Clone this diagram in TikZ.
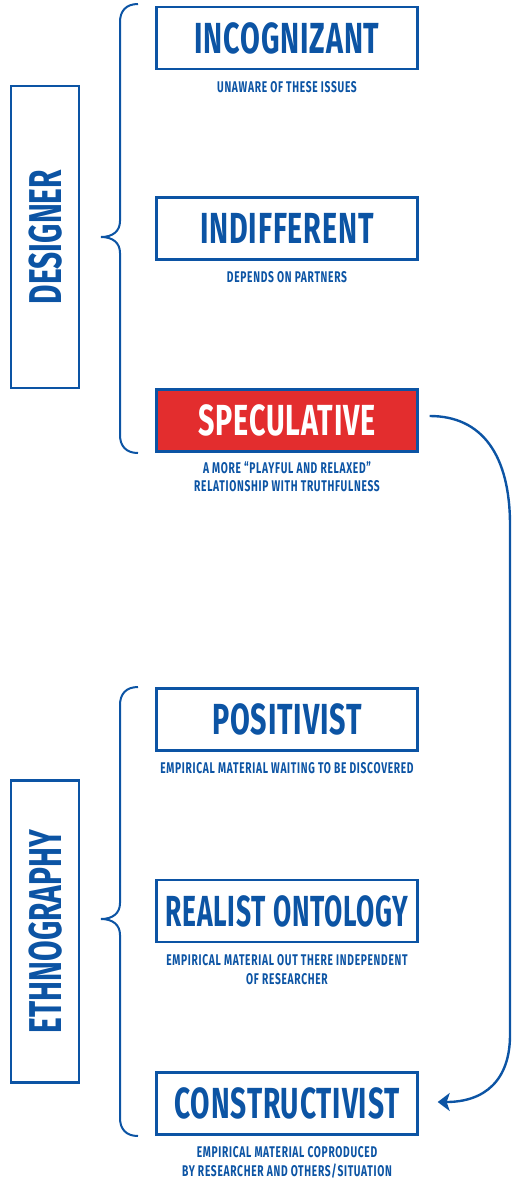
\documentclass[tikz,border=0pt]{standalone}
\usepackage{fontspec}
\newfontfamily\cf{Fira Sans}[FakeStretch=0.66,LetterSpace=2]
\newfontfamily\sidefont{Fira Sans}[FakeStretch=0.65]
\newfontfamily\capf{Fira Sans}[FakeStretch=0.66,LetterSpace=4.5]
\usetikzlibrary{arrows.meta}
\definecolor{bl}{RGB}{12,84,164}
\definecolor{rd}{RGB}{227,45,46}
\begin{document}
\begin{tikzpicture}[x=1pt,y=-1pt,
 box/.style={draw=bl,line width=2.4pt,minimum width=261pt,minimum height=62pt,inner sep=0pt,text=bl,font=\cf\bfseries\fontsize{43.5}{43.5}\selectfont,text height=30pt,text depth=0pt},
 capt/.style={text=bl,font=\capf\bfseries\fontsize{15.5}{18.5}\selectfont,align=center,anchor=base,inner sep=0pt},
 side/.style={draw=bl,line width=2.4pt,minimum width=302pt,minimum height=68pt,rotate=90,inner sep=0pt,text=bl,font=\sidefont\bfseries\fontsize{46}{46}\selectfont,text height=32pt,text depth=0pt},
 brace/.style={draw=bl,line width=2pt},
 conn/.style={draw=bl,line width=2.4pt,-{Stealth[length=12pt,width=18pt,inset=3pt]}}]
\useasboundingbox (0,0) rectangle (513,1181);

\node[side] (des) at (45,237) {DESIGNER};
\node[side] (eth) at (45,931.5) {ETHNOGRAPHY};

\node[box] (inc) at (287,38) {INCOGNIZANT};
\node[box] (ind) at (287,228.5) {INDIFFERENT};
\node[box,fill=rd,text=white] (spec) at (287,420.5) {SPECULATIVE};
\node[box] (pos) at (287,719.5) {POSITIVIST};
\node[box] (real) at (287,911) {\scalebox{0.92}[1]{REALIST ONTOLOGY}};
\node[box] (cons) at (287,1103.5) {\scalebox{0.98}[1]{CONSTRUCTIVIST}};

\node[capt] (c1) at (287,92.7) {UNAWARE OF THESE ISSUES};
\node[capt] (c2) at (287,282.7) {DEPENDS ON PARTNERS};
\node[capt] (c3) at (287,491.7) {A MORE “PLAYFUL AND RELAXED”\\RELATIONSHIP WITH TRUTHFULNESS};
\node[capt] (c4) at (287,773.3) {EMPIRICAL MATERIAL WAITING TO BE DISCOVERED};
\node[capt] (c5) at (287,984.3) {EMPIRICAL MATERIAL OUT THERE INDEPENDENT\\OF RESEARCHER};
\node[capt] (c6) at (287,1176) {EMPIRICAL MATERIAL COPRODUCED\\BY RESEARCHER AND OTHERS/SITUATION};

\draw[brace] (138,4) .. controls (126,4) and (120,11) .. (120,22) -- (120,221)
  .. controls (120,231) and (113,237) .. (101,237)
  .. controls (113,237) and (120,243) .. (120,253) -- (120,435)
  .. controls (120,446) and (126,453) .. (138,453);
\draw[brace] (138,687) .. controls (126,687) and (120,694) .. (120,705) -- (120,903)
  .. controls (120,913) and (113,919) .. (101,919)
  .. controls (113,919) and (120,925) .. (120,935) -- (120,1118)
  .. controls (120,1129) and (126,1136) .. (138,1136);

\draw[conn] ([xshift=11pt,yshift=4.5pt]spec.east) .. controls (482,416) and (510,455) .. (510,525)
  -- (510,1035) .. controls (510,1080) and (485,1102) .. ([xshift=19pt,yshift=1.5pt]cons.east);
\end{tikzpicture}
\end{document}
